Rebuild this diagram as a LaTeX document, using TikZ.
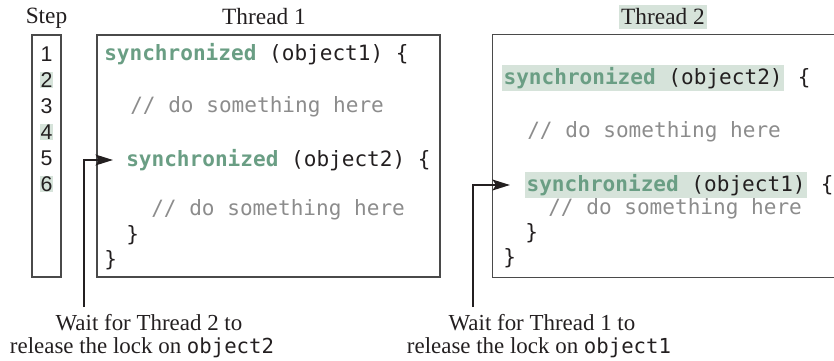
\documentclass[tikz,border=0pt]{standalone}
\usepackage{fontspec}
\setmainfont{Liberation Serif}
\setsansfont{Liberation Sans}
\setmonofont{DejaVu Sans Mono}
\usepackage{tikz}
\usetikzlibrary{arrows.meta,positioning,fit}
\definecolor{ink}{HTML}{231F20}
\definecolor{kwgreen}{HTML}{6A9E84}
\definecolor{hilite}{HTML}{D6E3DA}
\definecolor{cmtgray}{HTML}{8C8C8C}
\definecolor{frameline}{HTML}{4A4A4A}
\newcommand{\kw}[1]{\textcolor{kwgreen}{\textbf{#1}}}
\newcommand{\obj}[1]{{\ttfamily\fontsize{15.5}{15}\selectfont #1}}
\tikzset{
  title/.style={font=\fontsize{17.5}{18}\selectfont, text=ink, inner sep=1.5pt},
  frame/.style={draw=frameline, line width=1pt, inner sep=0pt},
  num/.style={font=\sffamily\fontsize{16}{18}\selectfont, text=ink, inner xsep=0.6pt, inner ysep=0.3pt},
  code/.style={anchor=west, font=\ttfamily\fontsize{15.8}{18}\selectfont, text=ink, inner sep=0pt},
  cmt/.style={code, text=cmtgray},
  hl/.style={fill=hilite, inner xsep=1pt, inner ysep=2pt},
  wait/.style={font=\fontsize{17.2}{18}\selectfont, text=ink, anchor=base, inner sep=0pt},
  waitarrow/.style={-{Stealth[length=13pt,width=8pt,inset=2.5pt]}, line width=2pt, draw=ink},
}
\begin{document}
\begin{tikzpicture}[x=0.75pt,y=-0.75pt]
  \useasboundingbox (0,0) rectangle (834,360);
  % headings
  \node[title] (stephead) at (46.5,18) {Step};
  \node[title] (t1head) at (264,17) {Thread 1};
  \node[title,fill=hilite,inner xsep=1.6pt,inner ysep=3pt] (t2head) at (663,17) {Thread 2};
  % step column
  \node[frame,fit={(32,35) (61,277)}] (stepbox) {};
  \foreach \n/\fl in {1/none,2/hilite,3/none,4/hilite,5/none,6/hilite}
    \node[num,fill=\fl] (s\n) at (46.5,{28+26*\n}) {\n};
  % thread 1
  \node[frame,fit={(97,35) (440,277)}] (t1box) {};
  \node[code] (t1a) at (104,54) {\kw{synchronized} (object1) \{};
  \node[cmt] (t1b) at (130,107) {// do something here};
  \node[code] (t1c) at (126,160) {\kw{synchronized} (object2) \{};
  \node[cmt] (t1d) at (151,210) {// do something here};
  \node[code] (t1e) at (126,235) {\}};
  \node[code] (t1f) at (104,260) {\}};
  % thread 2 (box runs off the right edge)
  \node[inner sep=0pt,fit={(493,35) (834,277)}] (t2box) {};
  \draw[frame] (t2box.north east) -- (t2box.north west) -- (t2box.south west) -- (t2box.south east);
  \node[code,hl] (t2a) at (502,78) {\kw{synchronized} (object2)};
  \node[code] (t2ab) at ([xshift=10pt]t2a.east) {\{};
  \node[cmt] (t2b) at (527,132) {// do something here};
  \node[code,hl] (t2c) at (525,185) {\kw{synchronized} (object1)};
  \node[code] (t2cb) at ([xshift=10pt]t2c.east) {\{};
  \node[cmt] (t2d) at (548,209) {// do something here};
  \node[code] (t2e) at (525,233) {\}};
  \node[code] (t2f) at (503,258) {\}};
  % waits
  \node[wait] (wait1) at (149,330) {Wait for Thread 2 to};
  \node[wait] (wait1b) at (142,353) {release the lock on \obj{object2}};
  \node[wait] (wait2) at (542,330) {Wait for Thread 1 to};
  \node[wait] (wait2b) at (539,353) {release the lock on \obj{object1}};
  \coordinate (w1) at (84,307);
  \coordinate (w2) at (473,307);
  \draw[waitarrow] (w1) |- ([xshift=-9.75pt]t1c.west);
  \draw[waitarrow] (w2) |- ([xshift=-11.25pt]t2c.west);
\end{tikzpicture}
\end{document}
